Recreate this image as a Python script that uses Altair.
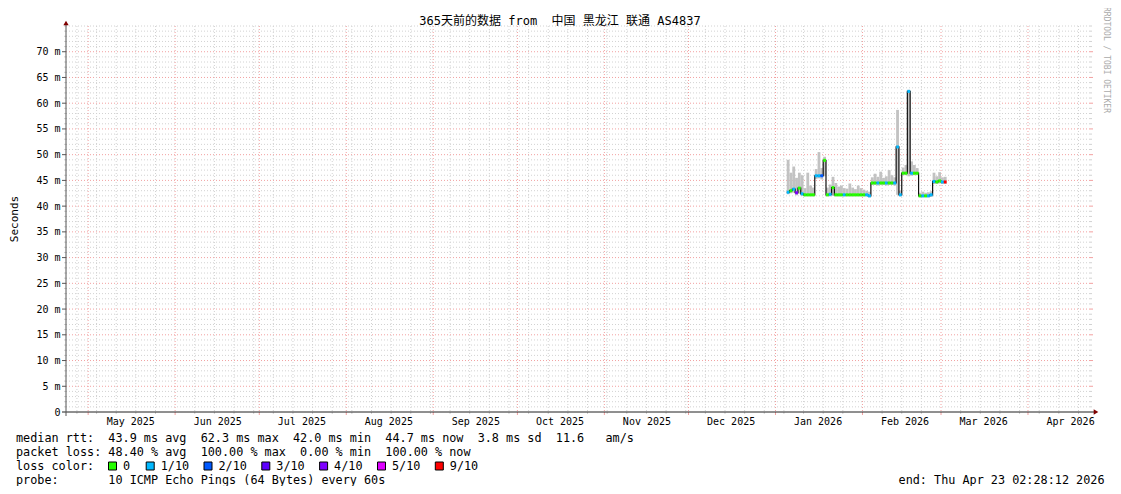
import altair as alt
import pandas as pd

MONO = "DejaVu Sans Mono, Noto Sans CJK SC"
NB = "\u00a0"

# ---------------- texts ----------------
title_text = "365天前的数据 from  中国 黑龙江 联通 AS4837"
y_title = "Seconds"
credit_text = "RRDTOOL / TOBI OETIKER"
line_rtt = "median rtt:  43.9 ms avg  62.3 ms max  42.0 ms min  44.7 ms now  3.8 ms sd  11.6   am/s"
line_loss = "packet loss: 48.40 % avg  100.00 % max  0.00 % min  100.00 % now"
line_color = "loss color:"
line_probe = "probe:       10 ICMP Echo Pings (64 Bytes) every 60s"
end_text = "end: Thu Apr 23 02:28:12 2026"

# ---------------- data (one value per day, starting 2026-01-05) ----------------
first_day = "2026-01-05"
median_ms = [42.7, 43.0, 43.3, 42.6, 43.5, 42.4, 42.2, 42.2, 42.2, 42.2,
             45.9, 45.9, 45.9, 48.9, 42.2, 42.3, 43.6, 42.2, 42.2, 42.2,
             42.2, 42.2, 42.2, 42.2, 42.2, 42.2, 42.2, 42.2, 42.2, 42.0,
             44.5, 44.5, 44.5, 44.5, 44.5, 44.5, 44.5, 44.5, 44.5, 51.5,
             42.2, 46.4, 46.4, 62.3, 46.4, 46.4, 46.4, 42.0, 42.0, 42.0,
             42.0, 42.2, 44.8, 44.7, 44.9, 44.7, 44.7]
smoke_hi_ms = [49.0, 46.5, 47.7, 45.5, 46.5, 46.0, 43.5, 46.5, 44.0, 43.6,
               47.2, 50.5, 47.4, 49.6, 43.6, 44.2, 45.7, 44.5, 43.8, 44.0,
               43.5, 43.4, 44.4, 43.6, 43.3, 44.0, 43.5, 43.2, 43.0, 42.8,
               45.6, 46.3, 45.7, 46.7, 45.5, 45.8, 47.0, 46.0, 45.6, 58.7,
               43.0, 47.5, 48.0, 62.6, 48.7, 48.0, 47.4, 42.6, 42.8, 42.6,
               42.7, 42.9, 46.5, 45.8, 46.6, 45.6, 45.7]
smoke_lo_ms = [42.3, 42.5, 42.6, 42.1, 42.4, 42.0, 41.9, 41.9, 41.9, 41.9,
               45.3, 45.4, 45.2, 45.8, 41.9, 41.9, 42.0, 41.9, 41.9, 41.9,
               41.9, 41.9, 41.9, 41.9, 41.9, 41.9, 41.9, 41.9, 41.9, 41.7,
               44.1, 44.1, 44.0, 44.1, 44.1, 44.0, 44.1, 44.1, 44.0, 42.2,
               41.9, 46.0, 46.0, 45.8, 45.9, 46.0, 46.0, 41.7, 41.7, 41.7,
               41.7, 41.8, 44.3, 44.3, 44.4, 44.3, 44.3]
loss_tenths = [1, 0, 1, 4, 0, 1, 0, 0, 0, 0,
               1, 1, 2, 0, 0, 1, 0, 0, 0, 0,
               1, 0, 0, 0, 0, 0, 0, 0, 1, 1,
               0, 0, 1, 0, 0, 1, 0, 0, 1, 1,
               1, 0, 0, 1, 1, 0, 0, 0, 1, 0,
               1, 1, 1, 0, 0, 1, 9]

loss_levels = [0, 1, 2, 3, 4, 5, 9]
loss_labels = ["0", "1/10", "2/10", "3/10", "4/10", "5/10", "9/10"]
loss_colors = ["#26ff00", "#00b8ff", "#0059ff", "#5e00ff", "#7e00ff", "#dd00ff", "#ff0000"]

y_label_values = list(range(0, 75, 5))

# ---------------- layout ----------------
W, H = 1024, 386
PAD = {"left": 58, "top": 18, "right": 23, "bottom": 74}
legend_box_x = [46.5, 84.2, 142.0, 199.8, 257.6, 315.5, 373.3]

days = pd.date_range(first_day, periods=len(median_ms), freq="D")
df = pd.DataFrame({
    "t": days,
    "t_end": days + pd.Timedelta(days=1),
    "median": median_ms,
    "lo": smoke_lo_ms,
    "hi": smoke_hi_ms,
    "loss": [loss_labels[loss_levels.index(v)] for v in loss_tenths],
})

months = pd.DataFrame({"t": pd.date_range("2025-05-01", "2026-04-01", freq="MS")})
weeks = pd.DataFrame({"t": [d for d in pd.date_range("2025-04-27", "2026-04-19", freq="W-SUN") if d.day != 1]})
y_major = pd.DataFrame({"v": list(range(5, 75, 5))})
y_minor = pd.DataFrame({"v": [v for v in range(1, 76) if v % 5 or v == 75]})
one = pd.DataFrame({"a": [0]})

xs = alt.Scale(domain=[alt.DateTime(year=2025, month=4, date=23, hours=2, minutes=28, seconds=12),
                       alt.DateTime(year=2026, month=4, date=23, hours=2, minutes=28, seconds=12)], nice=False)
ys = alt.Scale(domain=[0, 75], nice=False, zero=False)

label_dates = [alt.DateTime(year=d.year, month=d.month, date=16)
               for d in pd.date_range("2025-05-01", "2026-04-01", freq="MS")]
x_axis = alt.Axis(values=label_dates, format="%b %Y", labelFont=MONO, labelFontSize=10,
                  labelColor="#000", ticks=False, tickSize=0, domain=False, grid=False,
                  labelPadding=4, title=None, labelOverlap=False, labelFlush=False)
y_axis = alt.Axis(values=y_label_values, labelExpr="datum.value == 0 ? '0" + NB + NB + "' : datum.value + '" + NB + "m'",
                  labelFont=MONO, labelFontSize=10, labelColor="#000", ticks=False, tickSize=0,
                  domain=False, grid=False, labelPadding=6, title=None, labelOverlap=False)

GRID_C = "#d2d2d2"
MGRID_C = "#f2a0a0"
AXIS_C = "#212121"

X = lambda f="t": alt.X(f + ":T", scale=xs, axis=x_axis)
Y = lambda f="v": alt.Y(f + ":Q", scale=ys, axis=y_axis)

layers = []
# horizontal grid
layers.append(alt.Chart(y_minor).mark_rule(color=GRID_C, strokeDash=[1, 2], strokeWidth=1)
              .encode(y=Y(), x=alt.value(0), x2=alt.value(W)))
layers.append(alt.Chart(y_minor).mark_rule(color=GRID_C, strokeWidth=1)
              .encode(y=Y(), x=alt.value(-2), x2=alt.value(0)))
layers.append(alt.Chart(y_minor).mark_rule(color=GRID_C, strokeWidth=1)
              .encode(y=Y(), x=alt.value(W), x2=alt.value(W + 2)))
layers.append(alt.Chart(y_major).mark_rule(color=MGRID_C, strokeDash=[1, 2], strokeWidth=1)
              .encode(y=Y(), x=alt.value(0), x2=alt.value(W)))
layers.append(alt.Chart(y_major).mark_rule(color="#555555", strokeWidth=1)
              .encode(y=Y(), x=alt.value(-4), x2=alt.value(0)))
layers.append(alt.Chart(y_major).mark_rule(color=MGRID_C, strokeWidth=1)
              .encode(y=Y(), x=alt.value(W), x2=alt.value(W + 3)))
# vertical grid
layers.append(alt.Chart(weeks).mark_rule(color=GRID_C, strokeDash=[1, 2], strokeWidth=1)
              .encode(x=X(), y=alt.value(0), y2=alt.value(H)))
layers.append(alt.Chart(weeks).mark_rule(color=GRID_C, strokeWidth=1)
              .encode(x=X(), y=alt.value(H), y2=alt.value(H + 2)))
layers.append(alt.Chart(months).mark_rule(color=MGRID_C, strokeDash=[1, 2], strokeWidth=1)
              .encode(x=X(), y=alt.value(0), y2=alt.value(H)))
layers.append(alt.Chart(months).mark_rule(color=MGRID_C, strokeWidth=1)
              .encode(x=X(), y=alt.value(H), y2=alt.value(H + 3)))

# smoke
layers.append(alt.Chart(df).mark_rect(color="#c2c2c2", opacity=1)
              .encode(x=X("t"), x2="t_end:T", y=Y("lo"), y2="hi:Q"))
# median line (black) with loss-coloured segments
layers.append(alt.Chart(df).mark_line(interpolate="step-after", color="#111111", strokeWidth=1.2)
              .encode(x=X("t"), y=Y("median")))
layers.append(alt.Chart(df).mark_rule(strokeWidth=3, strokeCap="butt")
              .encode(x=X("t"), x2="t_end:T", y=Y("median"),
                      color=alt.Color("loss:N", scale=alt.Scale(domain=loss_labels, range=loss_colors), legend=None)))

# axis lines and arrows
layers.append(alt.Chart(one).mark_rule(color=AXIS_C, strokeWidth=1)
              .encode(x=alt.value(-4), x2=alt.value(W + 4), y=alt.value(H)))
layers.append(alt.Chart(one).mark_rule(color="#555555", strokeWidth=1)
              .encode(x=alt.value(0), y=alt.value(-2), y2=alt.value(H + 4)))
layers.append(alt.Chart(one).mark_point(shape="triangle-up", filled=True, color="#800000", size=28, opacity=1)
              .encode(x=alt.value(0), y=alt.value(-3)))
layers.append(alt.Chart(one).mark_point(shape="triangle-right", filled=True, color="#800000", size=28, opacity=1)
              .encode(x=alt.value(W + 6), y=alt.value(H)))


def txt(text, x, y, size=11.8, align="left", angle=0, color="#000000"):
    return (alt.Chart(one)
            .mark_text(text=text.replace(" ", NB), font=MONO, fontSize=size, align=align,
                       baseline="middle", angle=angle, color=color)
            .encode(x=alt.value(x), y=alt.value(y)))


layers.append(txt(title_text, 494, -5, size=12, align="center"))
layers.append(txt(y_title, -51, H / 2, size=11, align="center", angle=270))
layers.append(txt(credit_text, 1040, 34, size=8, align="center", angle=90, color="#aaaaaa"))
layers.append(txt(line_rtt, -50, 412))
layers.append(txt(line_loss, -50, 426))
layers.append(txt(line_color, -50, 440))
layers.append(txt(line_probe, -50, 454))
layers.append(txt(end_text, 1038.5, 454, align="right"))

for bx, lab, col in zip(legend_box_x, loss_labels, loss_colors):
    layers.append(alt.Chart(one).mark_square(size=64, filled=True, fill=col, stroke="#000000",
                                             strokeWidth=1, opacity=1)
                  .encode(x=alt.value(bx), y=alt.value(440)))
    layers.append(txt(lab, bx + 10.5, 440))

chart = (alt.layer(*layers)
         .properties(width=W, height=H, autosize=alt.AutoSizeParams(type="none"),
                     padding=PAD, background="white")
         .configure_view(stroke=None))

chart.save("out.html", embed_options={"renderer": "svg", "actions": False})
